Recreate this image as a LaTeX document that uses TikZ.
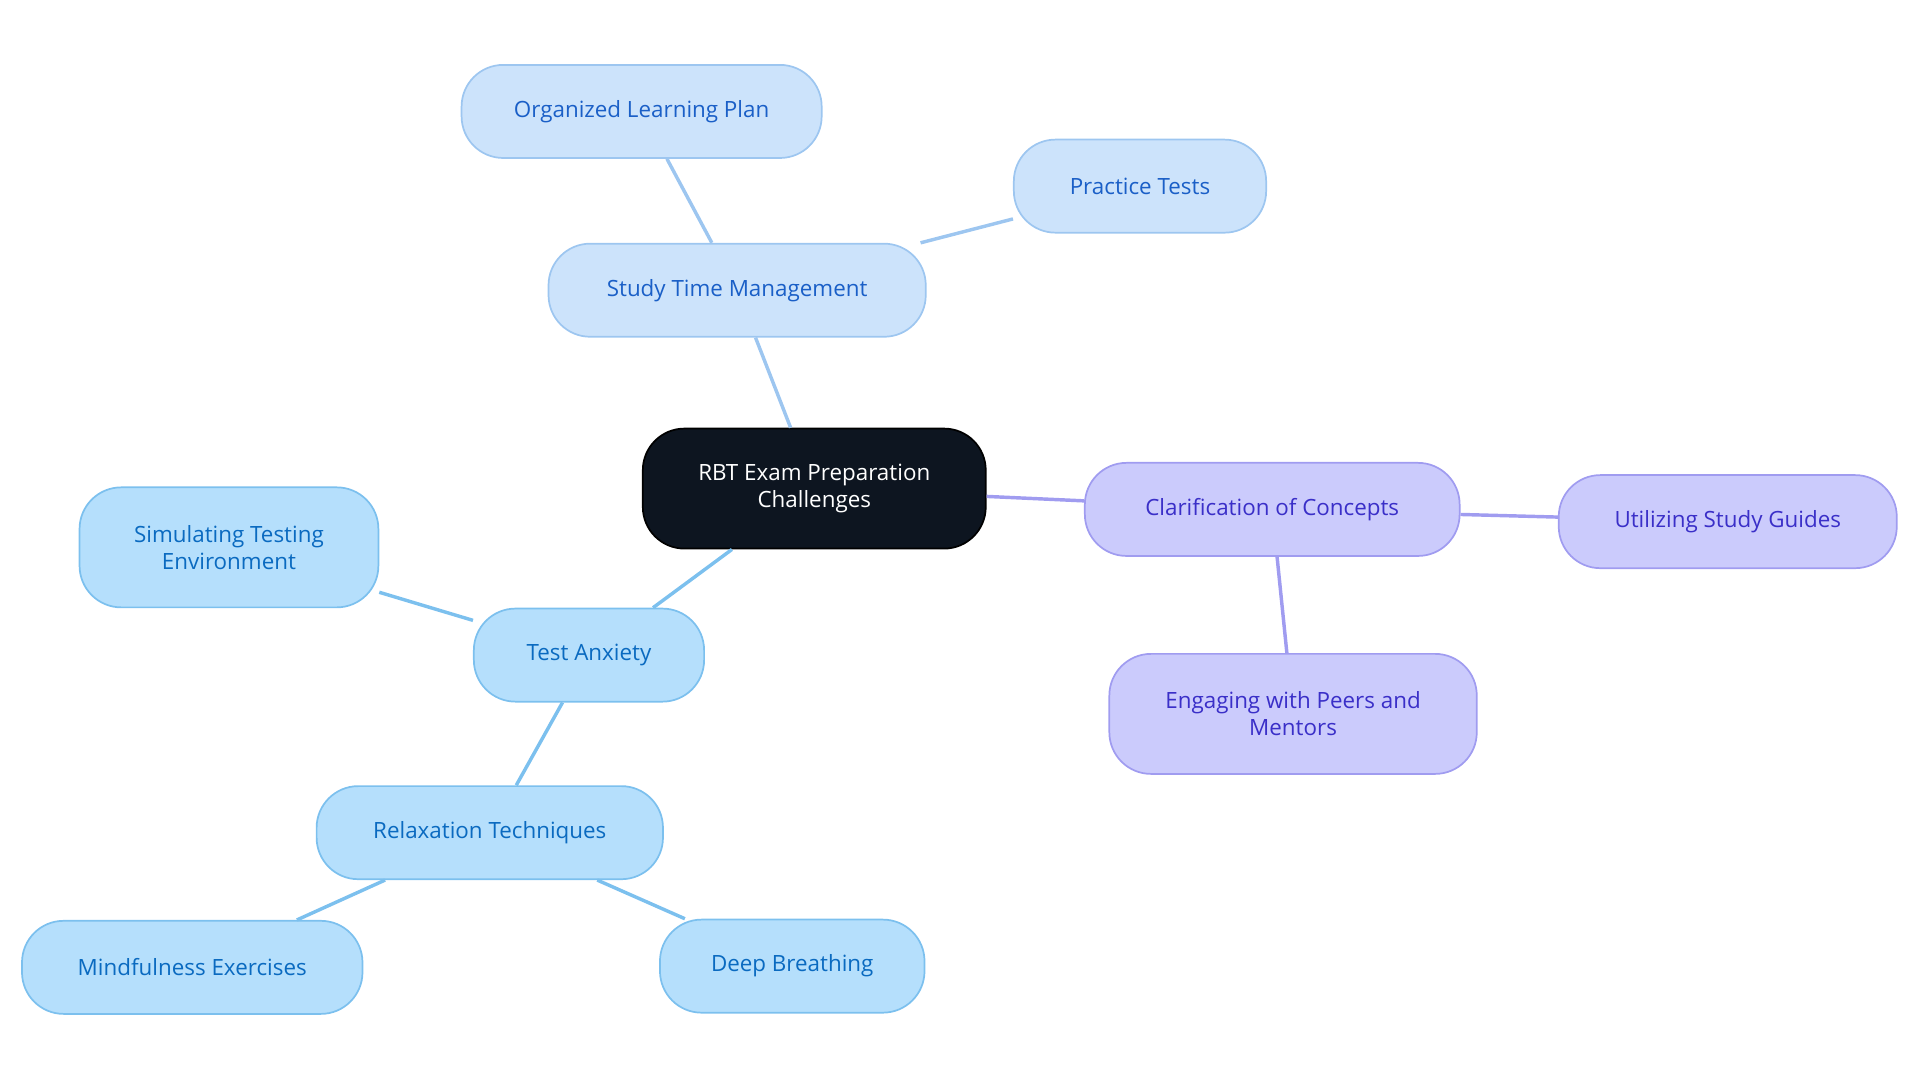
\documentclass[tikz,border=0pt]{standalone}
\usepackage{fontspec}
\setmainfont{Open Sans}
\definecolor{cfill}{HTML}{0D1520}
\definecolor{bfill}{HTML}{CCE3FB}\definecolor{bdraw}{HTML}{9DC6F0}\definecolor{btext}{HTML}{1A5FC7}
\definecolor{pfill}{HTML}{CBCBFC}\definecolor{pdraw}{HTML}{A09CF0}\definecolor{ptext}{HTML}{3A2FC8}
\definecolor{sfill}{HTML}{B5DFFC}\definecolor{sdraw}{HTML}{7CC0EE}\definecolor{stext}{HTML}{0A6AC0}
\begin{document}
\begin{tikzpicture}[x=0.025cm,y=-0.025cm,
 box/.style={rounded corners=0.85cm,line width=1pt,align=center,inner sep=0pt,font=\fontsize{13}{15.5}\selectfont},
 bl/.style={box,fill=bfill,draw=bdraw,text=btext},
 pu/.style={box,fill=pfill,draw=pdraw,text=ptext},
 sk/.style={box,fill=sfill,draw=sdraw,text=stext},
 e/.style={line width=2pt}]
\useasboundingbox (0,0) rectangle (1568,884);
\node[box,fill=cfill,draw=black,text=white,minimum width=7cm,minimum height=2.45cm] (c) at (665,399) {RBT Exam Preparation\\Challenges};
\node[bl,minimum width=7.7cm,minimum height=1.9cm] (st) at (602,237) {Study Time Management};
\node[bl,minimum width=7.35cm,minimum height=1.9cm] (ol) at (524,91) {Organized Learning Plan};
\node[bl,minimum width=5.15cm,minimum height=1.9cm] (pt) at (931,152) {Practice Tests};
\node[pu,minimum width=7.65cm,minimum height=1.9cm] (cl) at (1039,416) {Clarification of Concepts};
\node[pu,minimum width=6.9cm,minimum height=1.9cm] (ug) at (1411,426) {Utilizing Study Guides};
\node[pu,minimum width=7.5cm,minimum height=2.45cm] (en) at (1056,583) {Engaging with Peers and\\Mentors};
\node[sk,minimum width=4.7cm,minimum height=1.9cm] (ta) at (481,535) {Test Anxiety};
\node[sk,minimum width=6.1cm,minimum height=2.45cm] (si) at (187,447) {Simulating Testing\\Environment};
\node[sk,minimum width=7.07cm,minimum height=1.9cm] (re) at (400,680) {Relaxation Techniques};
\node[sk,minimum width=6.95cm,minimum height=1.9cm] (mi) at (157,790) {Mindfulness Exercises};
\node[sk,minimum width=5.4cm,minimum height=1.9cm] (db) at (647,789) {Deep Breathing};
\begin{scope}[on background layer/.try]
\end{scope}
\draw[e,bdraw] (c) -- (st); \draw[e,bdraw] (st) -- (ol); \draw[e,bdraw] (st) -- (pt);
\draw[e,pdraw] (c) -- (cl); \draw[e,pdraw] (cl) -- (ug); \draw[e,pdraw] (cl) -- (en);
\draw[e,sdraw] (c) -- (ta); \draw[e,sdraw] (ta) -- (si); \draw[e,sdraw] (ta) -- (re);
\draw[e,sdraw] (re) -- (mi); \draw[e,sdraw] (re) -- (db);
\end{tikzpicture}
\end{document}
